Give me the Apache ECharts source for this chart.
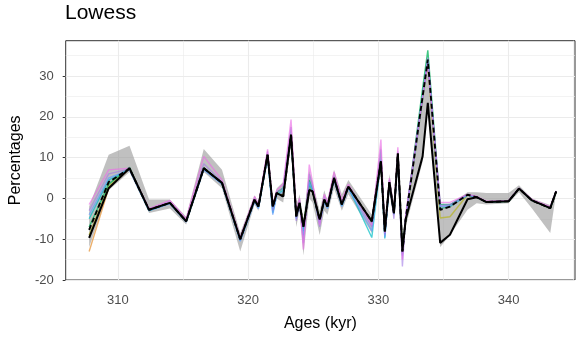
<!DOCTYPE html>
<html>
<head>
<meta charset="utf-8">
<script src="https://cdn.jsdelivr.net/npm/echarts@6/dist/echarts.min.js"></script>
<style>html,body{margin:0;padding:0;background:#fff}#c{width:576px;height:337px}</style>
</head>
<body>
<div id="c"></div>
<script>
var ages = [307.8, 309.3, 310.9, 312.4, 314.0, 315.25, 316.6, 318.0, 319.4, 320.5, 320.8, 321.5, 321.9, 322.2, 322.7, 323.3, 323.7, 323.95, 324.25, 324.7, 324.95, 325.5, 325.85, 326.1, 326.6, 327.2, 327.7, 329.5, 330.2, 330.5, 330.85, 331.2, 331.5, 331.85, 332.1, 333.4, 333.8, 334.75, 335.5, 336.85, 337.55, 338.3, 340.0, 340.8, 341.8, 343.2, 343.65];
var solid = [-9.7, 2.5, 7.4, -2.8, -1.1, -5.6, 7.4, 3.8, -10.0, -0.3, -2.0, 10.7, -2.0, 1.3, 0.5, 15.6, -4.4, -1.1, -6.9, 2.1, 1.7, -5.2, -0.3, -2.0, 5.0, -1.5, 2.9, -5.6, 9.1, -8.1, 4.0, -3.6, 11.0, -13.0, -5.2, 10.3, 23.4, -10.9, -8.9, -0.2, 0.3, -0.9, -0.7, 2.4, -0.5, -2.4, 1.7];
var dashed = [-7.7, 4.0, 7.3, -2.8, -1.1, -5.6, 7.4, 3.8, -10.0, -0.3, -2.0, 10.7, -2.0, 1.3, 0.5, 15.6, -4.4, -1.1, -6.9, 2.1, 1.7, -5.2, -0.3, -2.0, 5.0, -1.5, 2.9, -5.6, 9.1, -8.1, 4.0, -3.6, 11.0, -13.0, -5.2, 25.0, 34.0, -2.8, -2.0, 0.9, 0.3, -0.9, -0.7, 2.4, -0.5, -2.4, 1.7];
var ribLow = [-12.0, 2.0, 6.5, -3.6, -2.5, -6.4, 6.5, 2.5, -13.0, -1.5, -3.0, 9.0, -4.0, 0.0, -1.0, 13.0, -7.0, -3.0, -14.0, 0.0, -1.0, -9.0, -3.0, -4.0, 2.5, -3.0, 1.0, -8.5, 7.0, -10.0, 1.0, -5.0, 8.0, -15.0, -7.0, 9.0, 22.0, -12.0, -9.0, -2.8, -1.2, -1.5, -1.2, 1.5, -2.5, -8.5, 1.3];
var ribHigh = [-2.0, 10.7, 12.9, -0.3, -0.3, -4.5, 12.1, 7.0, -8.5, 0.8, -1.0, 12.0, -1.0, 2.5, 4.0, 18.0, -2.0, 1.0, -5.0, 7.0, 4.0, -3.0, 2.0, -0.5, 7.0, 1.0, 4.5, -4.0, 13.0, -6.0, 6.0, -1.5, 12.0, -11.0, -3.0, 26.0, 34.0, -1.8, -1.5, 1.5, 1.5, 1.3, 1.3, 3.2, 0.0, -1.6, 2.0];
var pink = [-1.5, 7.0, 7.4, -2.5, -0.5, -5.0, 10.3, 4.5, -9.5, 0.5, -1.5, 12.0, -1.5, 2.0, 3.5, 19.3, -3.0, 0.0, -12.5, 8.3, 4.0, -6.5, 1.0, -1.0, 6.5, -0.5, 3.5, -6.5, 14.4, -8.5, 5.0, -3.0, 12.5, -15.0, -4.0, 25.0, 33.0, -1.0, -1.0, 1.0, 0.5, -0.7, -0.5, 2.5, -0.3, -2.0, 1.8];
var purple = [-3.0, 6.0, 7.2, -2.6, -0.8, -5.3, 8.5, 4.0, -10.2, 0.0, -1.8, 11.5, -3.0, 1.5, 2.5, 17.5, -5.5, -0.5, -11.0, 6.0, 3.0, -7.0, 0.5, -1.5, 5.5, -1.0, 3.0, -7.0, 12.0, -9.0, 4.5, -5.0, 11.5, -16.7, -4.5, 25.0, 34.5, -1.8, -1.5, 1.0, 0.4, -0.8, -0.6, 2.5, -0.4, -2.2, 1.8];
var blue = [-4.0, 5.0, 7.0, -3.0, -1.3, -5.8, 7.0, 3.5, -10.5, -0.8, -2.5, 10.0, -4.0, 0.8, 1.5, 15.0, -5.0, -1.5, -9.0, 4.0, 2.0, -6.0, -1.0, -2.5, 4.5, -2.0, 2.5, -8.0, 9.5, -9.5, 3.5, -4.0, 10.0, -14.0, -5.0, 24.0, 33.5, -2.0, -1.8, 0.8, 0.3, -0.9, -0.7, 2.4, -0.5, -2.3, 1.7];
var cyan = [-5.0, 4.5, 7.2, -3.0, -1.2, -5.7, 7.2, 3.6, -10.3, -0.5, -2.2, 10.3, -3.5, 1.0, 2.0, 15.3, -4.7, -1.3, -8.0, 3.5, 1.8, -5.8, -0.6, -2.2, 4.8, -1.8, 2.7, -9.6, 9.3, -9.8, 3.8, -3.8, 10.5, -13.5, -4.8, 25.5, 34.0, -2.5, -2.0, 0.8, 0.3, -0.9, -0.7, 2.4, -0.5, -2.4, 1.7];
var green = [-7.0, 3.5, 7.6, -2.9, -1.1, -5.6, 7.5, 3.8, -10.0, -0.3, -2.0, 10.8, -2.5, 1.5, 2.5, 15.5, -4.0, -1.0, -7.5, 4.5, 2.0, -5.3, -0.4, -2.0, 5.0, -1.5, 2.9, -6.0, 9.2, -8.5, 4.0, -3.6, 11.0, -13.2, -5.0, 27.0, 36.3, -1.5, -1.5, 0.9, 0.3, -0.9, -0.7, 2.4, -0.5, -2.4, 1.7];
var olive = [-9.0, 3.0, 7.3, -2.8, -1.1, -5.6, 7.4, 3.8, -10.0, -0.3, -2.0, 10.7, -2.0, 1.3, 1.0, 15.6, -4.4, -1.1, -7.0, 3.0, 1.7, -5.2, -0.3, -2.0, 5.0, -1.5, 2.9, -5.8, 9.1, -8.3, 4.0, -3.6, 11.0, -13.0, -5.2, 24.0, 33.0, -4.8, -4.5, 0.9, 0.3, -0.9, -0.7, 2.4, -0.5, -2.4, 1.7];
var orange = [-13.0, 2.5, 7.3, -2.8, -1.1, -5.6, 7.3, 3.7, -10.1, -0.3, -2.0, 10.6, -2.2, 1.3, 0.8, 15.4, -4.4, -1.1, -7.0, 2.5, 1.7, -5.2, -0.3, -2.0, 5.0, -1.5, 2.9, -5.7, 9.0, -8.2, 4.0, -3.6, 11.0, -13.0, -5.2, 24.5, 33.0, -2.5, -2.0, 0.8, 0.3, -0.9, -0.7, 2.4, -0.5, -2.4, 1.7];
var xTicks = [310, 320, 330, 340];
var xMinor = [315, 325, 335, 345];
var yTicks = [-20, -10, 0, 10, 20, 30];
var yMinor = [-15, -5, 5, 15, 25, 35];

function pairs(ys) { return ages.map(function (a, i) { return [a, ys[i]]; }); }

var FONT = 'Liberation Sans';
var colored = [
  { d: orange, c: 'rgba(230,150,60,0.75)' },
  { d: olive, c: 'rgba(183,180,40,0.75)' },
  { d: green, c: 'rgba(0,180,90,0.75)' },
  { d: cyan, c: 'rgba(0,190,196,0.7)' },
  { d: blue, c: 'rgba(97,156,255,0.7)' },
  { d: purple, c: 'rgba(160,120,230,0.6)' },
  { d: pink, c: 'rgba(235,110,230,0.65)' }
];

var grid = [];
xTicks.forEach(function (v) { grid.push({ xAxis: v, lineStyle: { width: 1.1 } }); });
xMinor.forEach(function (v) { grid.push({ xAxis: v, lineStyle: { width: 0.6 } }); });
yTicks.forEach(function (v) { grid.push({ yAxis: v, lineStyle: { width: 1.1 } }); });
yMinor.forEach(function (v) { grid.push({ yAxis: v, lineStyle: { width: 0.6 } }); });

var series = [];
series.push({
  type: 'custom', z: 2, silent: true,
  data: [[ages[0], ribLow[0]]],
  renderItem: function (params, api) {
    var pts = [];
    for (var i = 0; i < ages.length; i++) pts.push(api.coord([ages[i], ribHigh[i]]));
    for (var j = ages.length - 1; j >= 0; j--) pts.push(api.coord([ages[j], ribLow[j]]));
    return { type: 'polygon', shape: { points: pts }, style: { fill: 'rgba(150,150,150,0.6)', stroke: 'none' } };
  },
  markLine: { silent: true, symbol: 'none', z: 1, animation: false, label: { show: false },
    lineStyle: { color: '#EBEBEB', type: 'solid' }, data: grid }
});
colored.forEach(function (s) {
  series.push({ type: 'line', data: pairs(s.d), symbol: 'none', z: 3,
    lineStyle: { color: s.c, width: 1.4 } });
});
series.push({ type: 'line', data: pairs(solid), symbol: 'none', z: 4,
  lineStyle: { color: '#000', width: 2 } });
series.push({ type: 'line', data: pairs(dashed), symbol: 'none', z: 5,
  lineStyle: { color: '#000', width: 1.9, type: [5, 3] } });

var chart = echarts.init(document.getElementById('c'), null, { renderer: 'canvas' });
chart.setOption({
  animation: false,
  backgroundColor: '#fff',
  title: { text: 'Lowess', left: 65, top: 3, padding: 0,
    textStyle: { fontFamily: FONT, fontSize: 21, fontWeight: 'normal', color: '#000' } },
  grid: { left: 65.5, right: 1, top: 40.7, bottom: 56.3, show: true, borderColor: '#333', borderWidth: 1, backgroundColor: 'transparent' },
  xAxis: {
    type: 'value', min: 306.0, max: 345.1,
    name: 'Ages (kyr)', nameLocation: 'middle', nameGap: 36,
    nameTextStyle: { fontFamily: FONT, fontSize: 16, color: '#000' },
    axisLine: { show: false },
    splitLine: { show: false },
    axisTick: { show: true, length: 3, lineStyle: { color: '#333' }, customValues: xTicks },
    axisLabel: { customValues: xTicks, margin: 14, fontFamily: FONT, fontSize: 13, color: '#4D4D4D' }
  },
  yAxis: {
    type: 'value', min: -20, max: 38.65,
    name: 'Percentages', nameLocation: 'middle', nameGap: 38,
    nameTextStyle: { fontFamily: FONT, fontSize: 16, color: '#000' },
    axisLine: { show: false },
    splitLine: { show: false },
    axisTick: { show: true, length: 3, lineStyle: { color: '#333' }, customValues: yTicks },
    axisLabel: { customValues: yTicks, margin: 12, fontFamily: FONT, fontSize: 13, color: '#4D4D4D' }
  },
  series: series
});
</script>
</body>
</html>
